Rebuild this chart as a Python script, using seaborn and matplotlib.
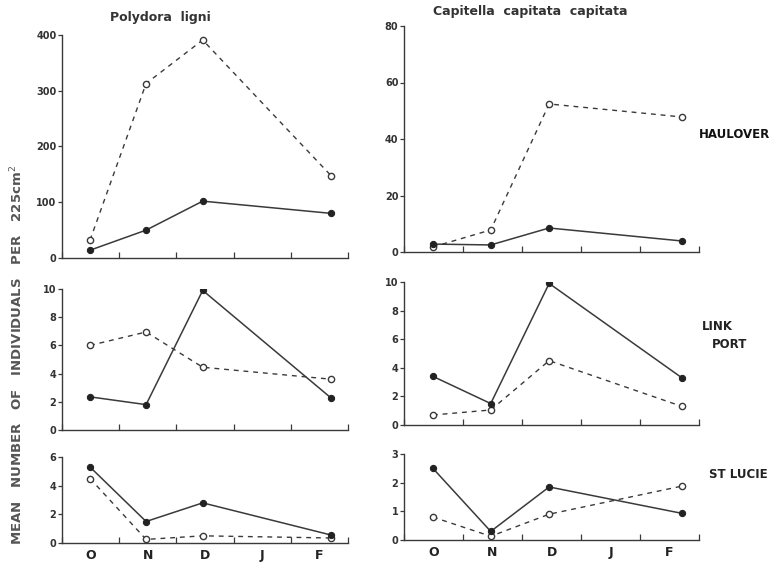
"""
Seasonal abundance of Polydora ligni and Capitella capitata capitata
at three stations (Haulover, Link Port, St Lucie)
"""
import numpy as np
import pandas as pd
import matplotlib
matplotlib.use('Agg')
import matplotlib.pyplot as plt
import seaborn as sns

sns.set_style('white')
plt.rcParams['font.family'] = ['DejaVu Sans']

# sampling months (x position in month units, axis boundaries at 0..5)
months = ['O', 'N', 'D', 'J', 'F']
sample_x = [0.49, 1.47, 2.46, 4.71]

stations = ['HAULOVER', 'LINK\nPORT', 'ST LUCIE']

# Polydora ligni (left column)
poly_open = {
    'HAULOVER': [32, 313, 391, 147],
    'LINK\nPORT': [6.0, 6.95, 4.45, 3.6],
    'ST LUCIE': [4.5, 0.25, 0.5, 0.35],
}
poly_filled = {
    'HAULOVER': [14, 50, 102, 80],
    'LINK\nPORT': [2.35, 1.8, 9.9, 2.25],
    'ST LUCIE': [5.3, 1.5, 2.8, 0.55],
}

# Capitella capitata capitata (right column)
capi_open = {
    'HAULOVER': [1.8, 7.8, 52.4, 47.8],
    'LINK\nPORT': [0.7, 1.05, 4.5, 1.3],
    'ST LUCIE': [0.8, 0.13, 0.9, 1.88],
}
capi_filled = {
    'HAULOVER': [2.8, 2.5, 8.5, 3.9],
    'LINK\nPORT': [3.4, 1.5, 9.9, 3.3],
    'ST LUCIE': [2.5, 0.3, 1.85, 0.93],
}

poly_ticks = [[0, 100, 200, 300, 400], [0, 2, 4, 6, 8, 10], [0, 2, 4, 6]]
capi_ticks = [[0, 20, 40, 60, 80], [0, 2, 4, 6, 8, 10], [0, 1, 2, 3]]

W, H = 775, 564
INK = '#3a3a3a'


def px_rect(left, top, right, bottom):
    return [left / W, 1 - bottom / H, (right - left) / W, (bottom - top) / H]


def draw_panel(ax, open_vals, filled_vals, yticks, show_months):
    sns.lineplot(x=sample_x, y=open_vals, ax=ax, color=INK, linewidth=1.0,
                 linestyle=(0, (3.5, 3.5)), marker='o', markersize=4.5,
                 markerfacecolor='white', markeredgecolor=INK, markeredgewidth=1.0)
    sns.lineplot(x=sample_x, y=filled_vals, ax=ax, color=INK, linewidth=1.1,
                 marker='o', markersize=4.5, markerfacecolor='#222222',
                 markeredgecolor='#222222')
    ax.set_xlim(0, 5)
    ax.set_ylim(0, yticks[-1])
    ax.set_yticks(yticks)
    ax.set_yticklabels([str(t) for t in yticks], fontsize=7, fontweight='bold', color='#333333')
    ax.set_xticks(np.arange(0, 6))
    ax.set_xticks(np.arange(len(months)) + 0.5, minor=True)
    ax.set_xticklabels([])
    if show_months:
        ax.set_xticklabels(months, minor=True, fontsize=9, fontweight='bold', color='#222222')
    ax.tick_params(axis='x', which='major', bottom=True, direction='in', length=4,
                   width=0.9, color=INK)
    ax.tick_params(axis='x', which='minor', bottom=True, length=0, pad=4)
    ax.tick_params(axis='y', left=True, direction='out', length=3, width=0.9,
                   color=INK, pad=1)
    sns.despine(ax=ax)
    for side in ['left', 'bottom']:
        ax.spines[side].set_color(INK)
        ax.spines[side].set_linewidth(1.0)
    ax.patch.set_alpha(0)


fig = plt.figure(figsize=(W / 100, H / 100), dpi=100)

left_rects = [px_rect(62, 35, 348, 258), px_rect(62, 289, 348, 430), px_rect(62, 457, 348, 543)]
right_rects = [px_rect(404, 26, 699, 252), px_rect(404, 282, 699, 425), px_rect(404, 454, 699, 540)]

for i, st in enumerate(stations):
    ax_l = fig.add_axes(left_rects[i])
    draw_panel(ax_l, poly_open[st], poly_filled[st], poly_ticks[i], i == 2)
    ax_r = fig.add_axes(right_rects[i])
    draw_panel(ax_r, capi_open[st], capi_filled[st], capi_ticks[i], i == 2)

# titles
fig.text(160 / W, 1 - 18 / H, 'Polydora  ligni', fontsize=9, fontweight='bold',
         color='#333333', ha='center', va='center')
fig.text(530 / W, 1 - 12 / H, 'Capitella  capitata  capitata', fontsize=9, fontweight='bold',
         color='#333333', ha='center', va='center')

# station labels
fig.text(734 / W, 1 - 135 / H, 'HAULOVER', fontsize=8.5, fontweight='bold',
         color='#111111', ha='center', va='center')
fig.text(702 / W, 1 - 327 / H, 'LINK', fontsize=8.5, fontweight='bold',
         color='#222222', ha='left', va='center')
fig.text(712 / W, 1 - 344 / H, 'PORT', fontsize=8.5, fontweight='bold',
         color='#222222', ha='left', va='center')
fig.text(738 / W, 1 - 474 / H, 'ST LUCIE', fontsize=8.5, fontweight='bold',
         color='#222222', ha='center', va='center')

# shared y label
fig.text(17 / W, 1 - 355 / H, 'MEAN   NUMBER   OF   INDIVIDUALS   PER   225cm$^{2}$',
         fontsize=9.5, fontweight='bold', color='#555555', rotation=90,
         ha='center', va='center')

fig.savefig('out.png', dpi=100, facecolor='white')
